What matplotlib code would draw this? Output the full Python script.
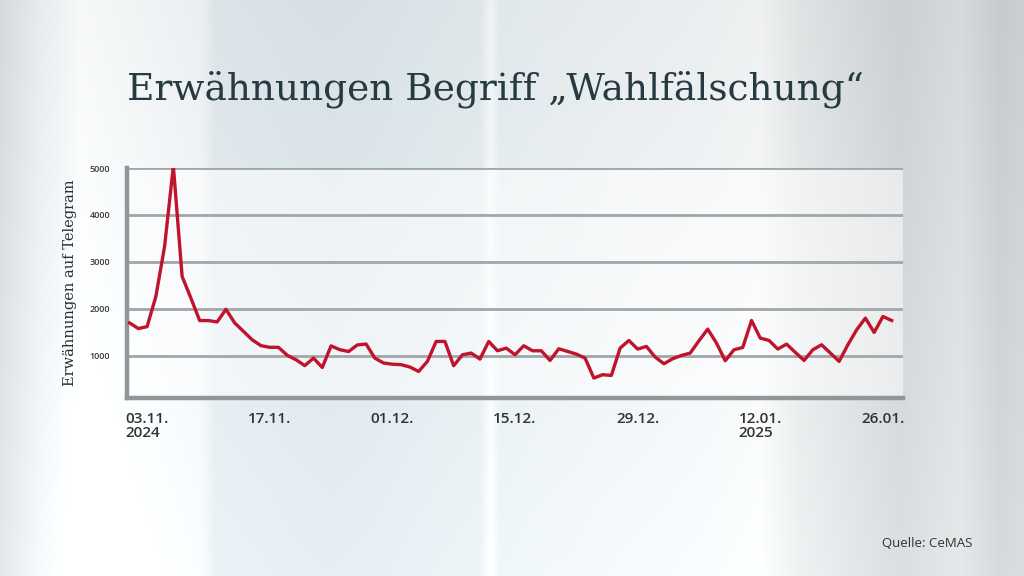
import numpy as np
import pandas as pd
import matplotlib
matplotlib.use("Agg")
import matplotlib.pyplot as plt

# daily mentions of "Wahlfälschung" on Telegram, 01.11.2024 - 27.01.2025
start_date = "2024-11-01"
mentions = [
    1700, 1580, 1620, 2260, 3330, 5040, 2690, 2230, 1750, 1750,
    1720, 1990, 1700, 1520, 1340, 1215, 1180, 1180, 1010, 915,
    790, 950, 750, 1210, 1130, 1090, 1230, 1250, 950, 845,
    820, 810, 760, 665, 880, 1305, 1305, 787, 1021, 1057,
    929, 1305, 1106, 1163, 1021, 1213, 1106, 1106, 900, 1149,
    1092, 1035, 950, 525, 596, 581, 1163, 1326, 1142, 1199,
    972, 830, 936, 1007, 1057, 1319, 1567, 1270, 894, 1128,
    1177, 1751, 1376, 1326, 1142, 1248, 1071, 900, 1128, 1234,
    1057, 880, 1234, 1553, 1802, 1497, 1836, 1751,
]
dates = pd.date_range(start_date, periods=len(mentions), freq="D")

tick_dates = pd.to_datetime(["2024-11-03", "2024-11-17", "2024-12-01", "2024-12-15",
                             "2024-12-29", "2025-01-12", "2025-01-26"])
tick_labels = ["03.11.\n2024", "17.11.", "01.12.", "15.12.", "29.12.", "12.01.\n2025", "26.01."]
y_ticks = [1000, 2000, 3000, 4000, 5000]

title = "Erwähnungen Begriff „Wahlfälschung“"
y_label = "Erwähnungen auf Telegram"
source = "Quelle: CeMAS"

fig = plt.figure(figsize=(10.24, 5.76), dpi=100)

# studio-like background: vertical light bands
bg_x = [0, 40, 80, 200, 215, 330, 480, 490, 500, 640, 760, 800, 900, 960, 1000, 1024]
bg_r = [212, 232, 246, 236, 220, 214, 222, 240, 225, 232, 238, 224, 205, 215, 200, 205]
bg_g = [217, 236, 248, 239, 228, 224, 230, 243, 232, 236, 240, 227, 208, 218, 203, 208]
bg_b = [220, 238, 249, 241, 232, 229, 233, 245, 235, 238, 241, 228, 210, 219, 205, 210]
cols = np.arange(1024)
row = np.stack([np.interp(cols, bg_x, c) for c in (bg_r, bg_g, bg_b)], axis=-1) / 255
shade = np.linspace(0.0, 0.06, 576)[:, None, None]
bg = np.clip(row[None, :, :] + shade, 0, 1)
bg_ax = fig.add_axes([0, 0, 1, 1], zorder=-1)
bg_ax.imshow(bg, aspect="auto", extent=[0, 1, 0, 1])
bg_ax.axis("off")

ax = fig.add_axes([127 / 1024, 1 - 398 / 576, 776 / 1024, 230 / 576])
ax.set_facecolor((1, 1, 1, 0.5))

ax.plot(dates, mentions, color="#c0132c", lw=2.4, zorder=3)

ax.set_ylim(100, 5000)
ax.set_xlim(dates[0] - pd.Timedelta(hours=7), dates[-1] + pd.Timedelta(hours=31))
ax.set_yticks(y_ticks)
ax.set_yticklabels([str(v) for v in y_ticks], fontsize=6.5, color="#3a3a3a",
                   family="Open Sans", fontweight="semibold")
ax.set_xticks(tick_dates)
ax.set_xticklabels(tick_labels, fontsize=11, color="#333333", family="Open Sans",
                   fontweight="semibold", multialignment="left", linespacing=1.0)
ax.tick_params(axis="both", length=0)
ax.tick_params(axis="y", pad=12)
ax.tick_params(axis="x", pad=10)

ax.grid(axis="y", color="#a3a6a8", lw=2, zorder=1)
for s in ["top", "right"]:
    ax.spines[s].set_visible(False)
for s in ["left", "bottom"]:
    ax.spines[s].set_color("#939699")
    ax.spines[s].set_linewidth(3.2)

ax.set_ylabel(y_label, family="DejaVu Serif", fontsize=10.5, color="#2a2f33", labelpad=9)

fig.text(127 / 1024, 1 - 100 / 576, title, family="DejaVu Serif", fontsize=27,
         color="#263a42", ha="left", va="baseline")
fig.text(972 / 1024, 1 - 547 / 576, source, family="Open Sans", fontsize=9.5,
         color="#333333", ha="right", va="baseline")

fig.savefig("out.png", dpi=100)
